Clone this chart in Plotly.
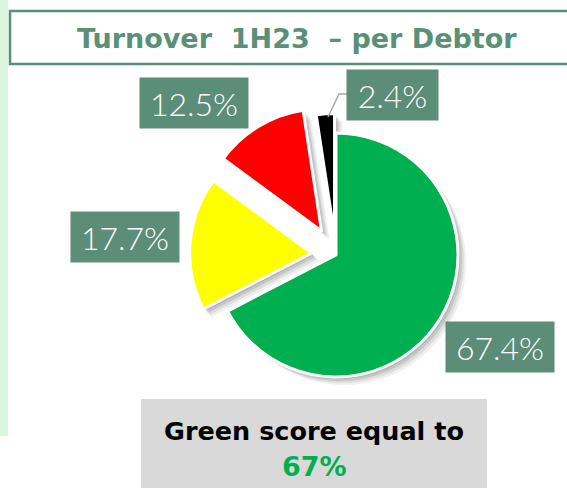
import plotly.graph_objects as go

W, H = 567, 488

# ---- data ----
categories = ["Green", "Yellow", "Red", "Black"]
shares = [67.4, 17.7, 12.5, 2.4]
slice_colors = ["#00B050", "#FFFF00", "#FF0000", "#000000"]
pulls = [0, 0.2, 0.23, 0.16]
title_text = "Turnover  1H23  \u2013 per Debtor"
score_label = "Green score equal to"
score_value = 67

LABEL_BG = "#5B8D78"
TITLE_COL = "#5A8F78"


def px(x):
    return x / W


def py(y):
    return 1 - y / H


# pie geometry (pixels)
cx, cy, r = 336, 255, 122
half = r * (1 + max(pulls))
dom_x = [px(cx - half), px(cx + half)]
dom_y = [py(cy + half), py(cy - half)]

fig = go.Figure()

# soft shadow layers
for off, alpha in [(8, 0.06), (6, 0.08), (4, 0.10), (2, 0.10)]:
    fig.add_trace(go.Pie(
        labels=categories, values=shares, pull=pulls, sort=False,
        direction="clockwise", rotation=0,
        marker=dict(colors=["rgba(0,0,0,%s)" % alpha] * len(shares), line=dict(width=0)),
        textinfo="none", hoverinfo="skip", showlegend=False,
        domain=dict(x=[dom_x[0] + px(off), dom_x[1] + px(off)],
                    y=[dom_y[0] - off / H, dom_y[1] - off / H]),
    ))

fig.add_trace(go.Pie(
    labels=categories, values=shares, pull=pulls, sort=False,
    direction="clockwise", rotation=0,
    marker=dict(colors=slice_colors, line=dict(color="white", width=3)),
    textinfo="none", showlegend=False,
    domain=dict(x=dom_x, y=dom_y),
))

shapes = [
    # left light-green strip
    dict(type="rect", xref="paper", yref="paper", x0=px(0), x1=px(8), y0=py(436), y1=py(0),
         fillcolor="#DAF6DD", line=dict(width=0), layer="below"),
    # title frame
    dict(type="rect", xref="paper", yref="paper", x0=px(10), x1=px(580), y0=py(64), y1=py(11),
         fillcolor="white", line=dict(color=TITLE_COL, width=2.5), layer="below"),
    # bottom grey box
    dict(type="rect", xref="paper", yref="paper", x0=px(141), x1=px(487), y0=py(490), y1=py(399),
         fillcolor="#D9D9D9", line=dict(width=0), layer="below"),
    # leader line for small slice
    dict(type="path", xref="paper", yref="paper",
         path="M %f %f L %f %f L %f %f" % (px(328), py(117), px(339), py(94), px(348), py(94)),
         line=dict(color="#A6A6A6", width=1.5)),
]

# data label boxes (centre px, text)
label_pos = [(500, 347), (125, 237), (194, 103), (392, 95)]
annotations = []
for (lx, ly), v in zip(label_pos, shares):
    annotations.append(dict(
        xref="paper", yref="paper", x=px(lx), y=py(ly), xanchor="center", yanchor="middle",
        text="%.1f%%" % v, showarrow=False,
        font=dict(family="Lato", size=32, color="white", weight=300),
        bgcolor=LABEL_BG, width=108 if v >= 10 else 91, height=50, borderpad=0,
    ))

annotations.append(dict(
    xref="paper", yref="paper", x=px(297), y=py(38), xanchor="center", yanchor="middle",
    text="<b>%s</b>" % title_text, showarrow=False,
    font=dict(family="DejaVu Sans", size=27, color=TITLE_COL),
))
annotations.append(dict(
    xref="paper", yref="paper", x=px(314), y=py(431), xanchor="center", yanchor="middle",
    text="<b>%s</b>" % score_label, showarrow=False,
    font=dict(family="DejaVu Sans", size=25.5, color="black"),
))
annotations.append(dict(
    xref="paper", yref="paper", x=px(314), y=py(466), xanchor="center", yanchor="middle",
    text="<b>%d%%</b>" % score_value, showarrow=False,
    font=dict(family="DejaVu Sans", size=27, color="#00B050"),
))

fig.update_layout(
    width=W, height=H, margin=dict(l=0, r=0, t=0, b=0),
    paper_bgcolor="white", plot_bgcolor="white",
    shapes=shapes, annotations=annotations, showlegend=False,
)

fig.write_html("out.html", config={"displayModeBar": False},
               post_script="document.body.style.margin='0';")
